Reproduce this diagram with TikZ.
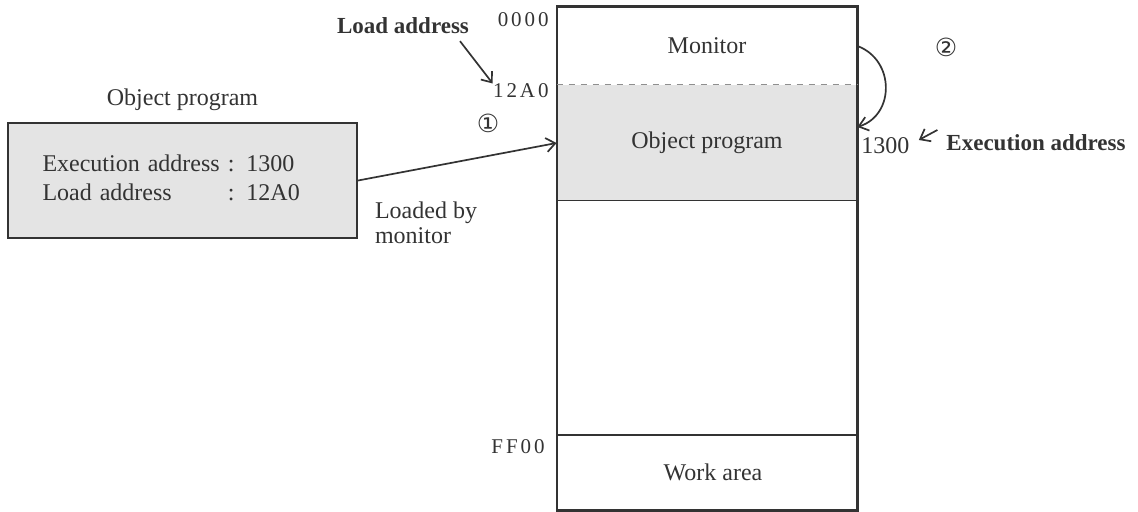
\documentclass[tikz,border=0pt]{standalone}
\usepackage{fontspec}
\setmainfont{Liberation Serif}
\newfontfamily\addrfont[LetterSpace=14]{Liberation Serif}
\newfontfamily\circfont{DejaVu Sans}
\definecolor{ink}{HTML}{333333}
\definecolor{shade}{HTML}{E4E4E4}
\usetikzlibrary{arrows.meta,positioning,calc}
\tikzset{
  memseg/.style={minimum width=150pt,inner sep=0pt,text=ink},
  addr/.style={anchor=east,inner sep=0pt,text=ink,font=\addrfont\fontsize{10.5}{12}\selectfont},
  tag/.style={text=ink,font=\bfseries\fontsize{11.5}{13}\selectfont},
  stepmark/.style={text=ink,font=\circfont\fontsize{12.5}{14}\selectfont},
  link/.style={draw=ink,line width=0.85pt,-{Straight Barb[length=4.5pt,width=7pt]}},
}

\begin{document}
\begin{tikzpicture}[x=0.5pt,y=-0.5pt,font=\fontsize{12}{14.5}\selectfont]
\useasboundingbox (0,0) rectangle (1138,512);
% memory map
\node[memseg,minimum height=39pt] (monitor) at (707,46) {Monitor};
\node[memseg,minimum height=58pt,fill=shade] (objprog) at (707,143) {Object program};
\node[memseg,minimum height=117pt] (freemem) at (707,318) {};
\node[memseg,minimum height=37.5pt] (workarea) at (707,472.5) {\hspace*{6pt}Work area};
\draw[ink,line width=1.1pt] (monitor.north west) rectangle (workarea.south east);
\draw[ink!55,line width=0.7pt,dashed] (objprog.north west) -- (objprog.north east);
\foreach \n in {freemem,workarea} \draw[ink,line width=0.9pt] (\n.north west) -- (\n.north east);
\node[addr] (a0000) at (549,20) {0000};
\node[addr] (a12A0) at (549,91) {12A0};
\node[addr] (aFF00) at (545,447) {FF00};
\node[tag] (loadtag) at (403,26) {Load address};
\draw[link] ([xshift=-8pt]loadtag.south east) -- (a12A0.north west);
\node[stepmark] (stepone) at (488,123) {①};
% object file
\node[draw=ink,line width=1.1pt,fill=shade,minimum width=174.5pt,minimum height=57.5pt,
      text width=140pt,inner xsep=17pt,align=left,text=ink] (objfile) at (182.5,180.5)
  {\begin{tabular}{@{}l@{\ }l@{}}Execution address & : 1300\\ Load address & : 12A0\end{tabular}};
\node[above=2pt of objfile,text=ink] (objtitle) {Object program};
\draw[link] (objfile.east) -- (objprog.west);
\node[anchor=north west,align=left,text=ink,font=\fontsize{12}{12.5}\selectfont] (loadnote) at (368,195) {Loaded by\\monitor};
% execution
\draw[link] (monitor.east) .. controls (895,60) and (895,115) .. ([yshift=8pt]objprog.east);
\node[stepmark] (steptwo) at (946,47) {②};
\node[anchor=west,inner sep=1.5pt,text=ink] (a1300) at (858,146) {1300};
\node[tag] (exectag) at (1036,143) {Execution address};
\draw[link] ([shift={(-1pt,6.5pt)}]exectag.west) -- ([shift={(3pt,3pt)}]a1300.east);
\end{tikzpicture}
\end{document}
